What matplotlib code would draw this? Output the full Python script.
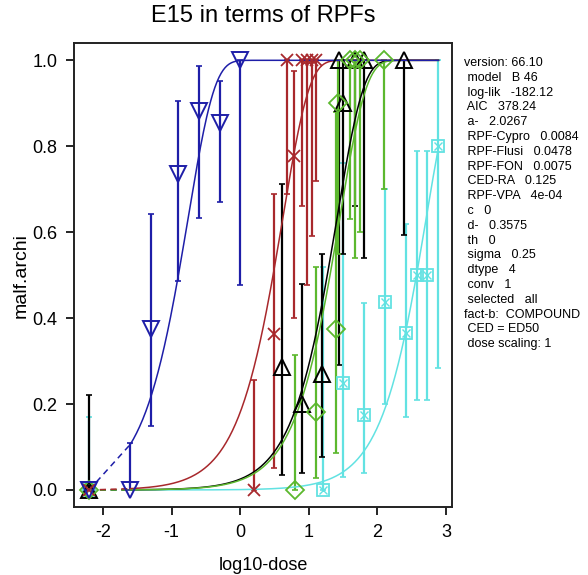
import numpy as np
import matplotlib
matplotlib.use("Agg")
from matplotlib import pyplot as plt

plt.rcParams['font.family'] = ['Liberation Sans', 'DejaVu Sans']

# fitted curves: log10 dose at 50% response per compound
ED50 = {'RA': -0.90, 'Flusi': 0.48, 'Cypro': 1.27, 'FON': 1.31, 'VPA': 2.57}
SLOPE = 2.6           # steepness per log10 unit
X_CONTROL = -2.2      # where dose 0 is drawn
X_FIRST = -1.6        # lowest nonzero dose
X_MAX = 2.89

# observed fractions with confidence limits, per compound (log10 dose)
ra_x = [-2.2, -1.6, -1.3, -0.9, -0.6, -0.3, 0.0]
ra_y = [0.0, 0.0, 0.375, 0.735, 0.882, 0.855, 1.0]
ra_lo = [0.0, 0.0, 0.15, 0.487, 0.634, 0.671, 0.478]
ra_hi = [0.0, 0.11, 0.643, 0.906, 0.986, 0.951, 1.0]

flusi_x = [-2.2, 0.2, 0.49, 0.68, 0.79, 0.90, 0.97, 1.05, 1.11]
flusi_y = [0.0, 0.0, 0.364, 1.0, 0.777, 1.0, 1.0, 1.0, 1.0]
flusi_lo = [0.0, 0.0, 0.05, 0.688, 0.40, 0.661, 0.476, 0.59, 0.72]
flusi_hi = [0.0, 0.257, 0.69, 1.0, 0.974, 1.0, 1.0, 1.0, 1.0]

cypro_x = [-2.2, 0.61, 0.90, 1.19, 1.44, 1.50, 1.68, 1.80, 2.39]
cypro_y = [0.0, 0.286, 0.201, 0.27, 1.0, 0.90, 1.0, 1.0, 1.0]
cypro_lo = [0.0, 0.035, 0.04, 0.077, 0.29, 0.55, 0.661, 0.54, 0.594]
cypro_hi = [0.22, 0.712, 0.48, 0.55, 1.0, 1.0, 1.0, 1.0, 1.0]

fon_x = [-2.2, 0.80, 1.10, 1.40, 1.43, 1.60, 1.68, 1.75, 2.09]
fon_y = [0.0, 0.0, 0.182, 0.375, 0.90, 1.0, 1.0, 1.0, 1.0]
fon_lo = [0.0, 0.0, 0.028, 0.086, 0.55, 0.63, 0.54, 0.60, 0.70]
fon_hi = [0.0, 0.313, 0.518, 0.88, 1.0, 1.0, 1.0, 1.0, 1.0]

vpa_x = [-2.2, 1.21, 1.50, 1.80, 2.11, 2.41, 2.58, 2.72, 2.89]
vpa_y = [0.0, 0.0, 0.25, 0.174, 0.437, 0.365, 0.50, 0.50, 0.80]
vpa_lo = [0.0, 0.0, 0.031, 0.039, 0.20, 0.17, 0.21, 0.21, 0.283]
vpa_hi = [0.17, 0.518, 0.76, 0.434, 0.70, 0.62, 0.79, 0.79, 1.0]

info = ["version: 66.10", " model   B 46", " log-lik   -182.12", " AIC   378.24",
        " a-   2.0267", " RPF-Cypro   0.0084", " RPF-Flusi   0.0478",
        " RPF-FON   0.0075", " CED-RA   0.125", " RPF-VPA   4e-04", " c   0",
        " d-   0.3575", " th   0", " sigma   0.25", " dtype   4", " conv   1",
        " selected   all", "fact-b:  COMPOUND", " CED = ED50", " dose scaling: 1"]


def model(logdose, ed50):
    # 50% at ed50, complementary log-log shape
    return 1 - 2.0 ** (-np.exp(SLOPE * (np.asarray(logdose) - ed50)))


fig = plt.figure(figsize=(5.88, 5.75), dpi=100)
ax = fig.add_axes([0.126, 0.118, 0.643, 0.807])

# (name, x, y, lo, hi, colour, marker)
groups = [
    ('VPA', vpa_x, vpa_y, vpa_lo, vpa_hi, '#62e2e2', 's'),
    ('Cypro', cypro_x, cypro_y, cypro_lo, cypro_hi, 'black', '^'),
    ('FON', fon_x, fon_y, fon_lo, fon_hi, '#5cb82e', 'D'),
    ('Flusi', flusi_x, flusi_y, flusi_lo, flusi_hi, '#a8282c', 'x'),
    ('RA', ra_x, ra_y, ra_lo, ra_hi, '#1e1ea8', 'v'),
]

xs = np.linspace(X_FIRST, X_MAX, 300)
for name, x, y, lo, hi, col, mk in groups:
    x = np.array(x); y = np.array(y)
    err = [y - np.array(lo), np.array(hi) - y]
    ax.errorbar(x, y, yerr=err, fmt='none', ecolor=col, elinewidth=1.6,
                capsize=2, capthick=1.2, zorder=2)
    # curve, dashed between control and lowest dose
    ax.plot([X_CONTROL, X_FIRST], [0, model(X_FIRST, ED50[name])], color=col,
            lw=1.1, ls=(0, (4, 3)), zorder=3)
    ax.plot(xs, model(xs, ED50[name]), color=col, lw=1.1, zorder=3)
    if mk == 's':
        ax.plot(x, y, ls='none', marker='s', ms=9, mfc='none', mec=col, mew=1.3, zorder=4)
        ax.plot(x, y, ls='none', marker='x', ms=5.5, mec=col, mew=1.0, zorder=4)
    elif mk == 'D':
        ax.plot(x, y, ls='none', marker='D', ms=9, mfc='none', mec=col, mew=1.3, zorder=4)
    elif mk == 'x':
        ax.plot(x, y, ls='none', marker='x', ms=8.5, mec=col, mew=1.3, zorder=4)
    else:
        ax.plot(x, y, ls='none', marker=mk, ms=11, mfc='none', mec=col, mew=1.4, zorder=4)

ax.set_xlim(-2.42, 3.09)
ax.set_ylim(-0.04, 1.04)
ax.set_xticks([-2, -1, 0, 1, 2, 3])
ax.set_xticklabels(['-2', '-1', '0', '1', '2', '3'])
ax.set_yticks([0, 0.2, 0.4, 0.6, 0.8, 1.0])
ax.set_yticklabels(['0.0', '0.2', '0.4', '0.6', '0.8', '1.0'])
ax.tick_params(direction='out', length=6, width=1.2, labelsize=13, pad=6)
for s in ax.spines.values():
    s.set_linewidth(1.4)
    s.set_color('#222222')

ax.set_title('E15 in terms of RPFs', fontsize=17, pad=15)
ax.set_xlabel('log10-dose', fontsize=13, labelpad=12)
ax.set_ylabel('malf.archi', fontsize=14, labelpad=2)

for i, line in enumerate(info):
    fig.text(464 / 588, 1 - (63 + i * 14.8) / 575, line, fontsize=9, va='center', ha='left')

fig.savefig('out.png', dpi=100)
